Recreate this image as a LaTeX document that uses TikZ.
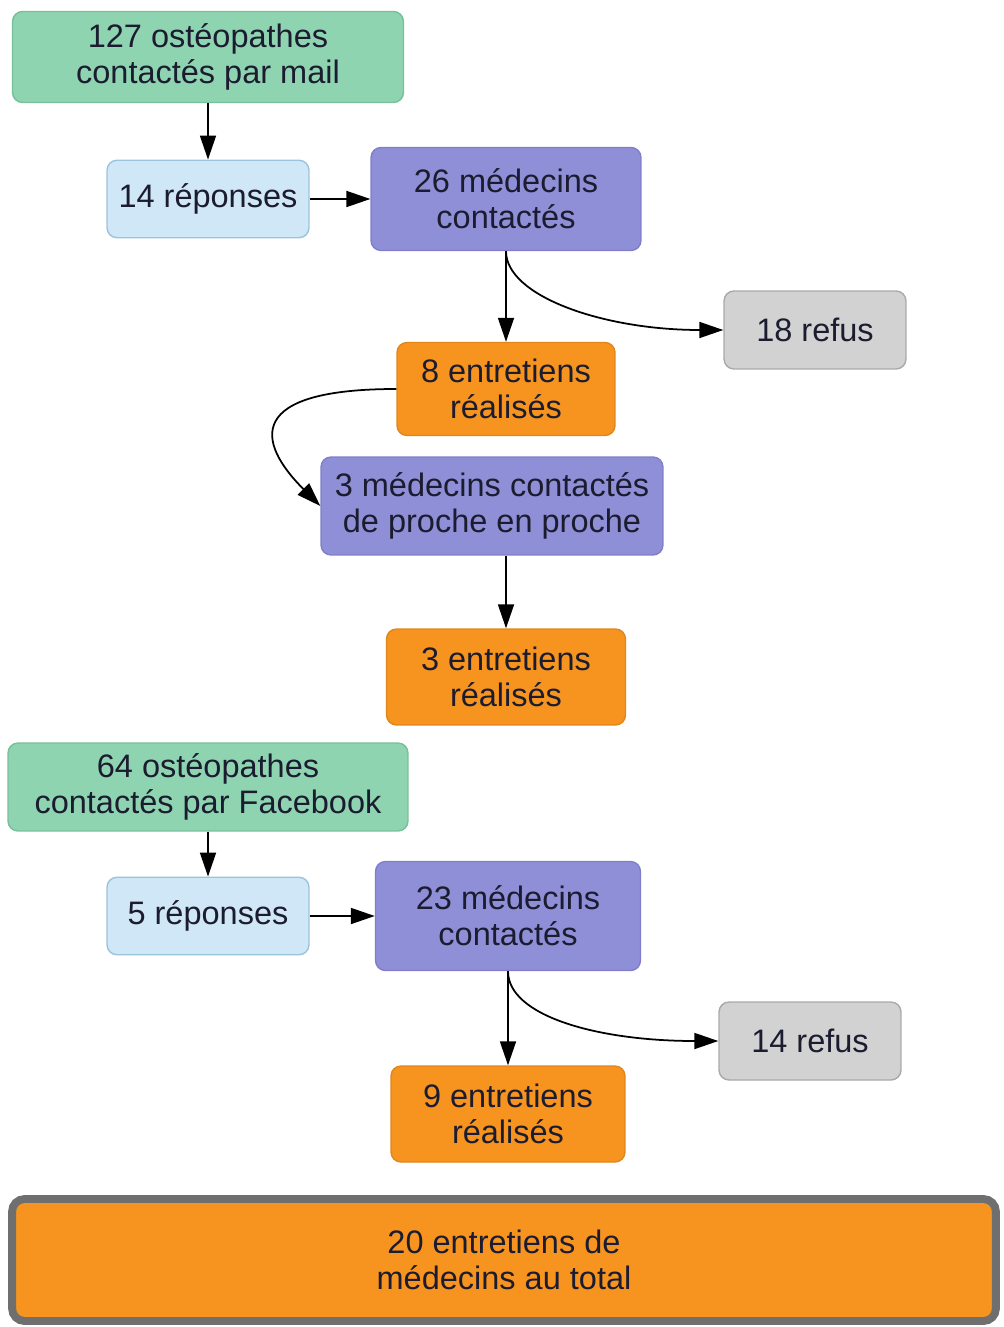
\documentclass[tikz,border=0pt]{standalone}
\usepackage{fontspec}
\setmainfont{Liberation Sans}
\usetikzlibrary{arrows.meta}
\definecolor{textcol}{HTML}{1C1C30}
\definecolor{greenfill}{HTML}{8FD4B1}
\definecolor{greenline}{HTML}{78BF9B}
\definecolor{bluefill}{HTML}{CFE7F6}
\definecolor{blueline}{HTML}{9CC3DE}
\definecolor{purplefill}{HTML}{8F8FD7}
\definecolor{purpleline}{HTML}{7E7ECB}
\definecolor{orangefill}{HTML}{F7941F}
\definecolor{orangeline}{HTML}{E0861A}
\definecolor{greyfill}{HTML}{D2D2D2}
\definecolor{greyline}{HTML}{A9A9A9}
\definecolor{totalline}{HTML}{6F6F6F}

\begin{document}
\begin{tikzpicture}[x=0.02cm,y=0.02cm,
    box/.style={rounded corners=0.2cm,draw,line width=0.8pt,align=center,inner sep=0pt,
      text=textcol,font=\fontsize{18.5}{20.5}\selectfont},
    greenbox/.style={box,fill=greenfill,draw=greenline},
    bluebox/.style={box,fill=bluefill,draw=blueline,minimum width=4.04cm,minimum height=1.55cm},
    purplebox/.style={box,fill=purplefill,draw=purpleline},
    orangebox/.style={box,fill=orangefill,draw=orangeline},
    greybox/.style={box,fill=greyfill,draw=greyline,minimum width=3.64cm,minimum height=1.56cm},
    arr/.style={-{Triangle[length=0.48cm,width=0.32cm]},line width=1pt}]
                    \useasboundingbox (0,0) rectangle (1003,-1327);
                    % first series: mail
                    \node [greenbox,minimum width=7.82cm,minimum height=1.82cm] (mail) at (208,-57) {127 ostéopathes\\contactés par mail};
                    \node [bluebox] (repmail) at (208,-199) {14 réponses};
                    \node [purplebox,minimum width=5.4cm,minimum height=2.06cm] (medmail) at (506,-199) {26 médecins\\contactés};
                    \node [greybox] (refmail) at (815,-330) {18 refus};
                    \node [orangebox,minimum width=4.36cm,minimum height=1.86cm] (entmail) at (506,-389) {8 entretiens\\réalisés};
                    \node [purplebox,minimum width=6.84cm,minimum height=1.96cm] (medproche) at (492,-506) {3 médecins contactés\\de proche en proche};
                    \node [orangebox,minimum width=4.78cm,minimum height=1.92cm] (entproche) at (506,-677) {3 entretiens\\réalisés};
                    \draw [arr] (mail) -- (repmail);
                    \draw [arr] (repmail) -- (medmail);
                    \draw [arr] (medmail) -- (entmail);
                    \draw [arr] (medmail.south) .. controls +(0,-45) and +(-120,0) .. (refmail.west);
                    \draw [arr] (entmail.west) .. controls +(-150,0) and +(-65,65) .. (medproche.west);
                    \draw [arr] (entproche.north |- medproche.south) -- (entproche);
                    % second series: Facebook
                    \node [greenbox,minimum width=8cm,minimum height=1.76cm] (fb) at (208,-787) {64 ostéopathes\\contactés par Facebook};
                    \node [bluebox] (repfb) at (208,-916) {5 réponses};
                    \node [purplebox,minimum width=5.3cm,minimum height=2.18cm] (medfb) at (508,-916) {23 médecins\\contactés};
                    \node [greybox] (reffb) at (810,-1041) {14 refus};
                    \node [orangebox,minimum width=4.68cm,minimum height=1.92cm] (entfb) at (508,-1114) {9 entretiens\\réalisés};
                    \draw [arr] (fb) -- (repfb);
                    \draw [arr] (repfb) -- (medfb);
                    \draw [arr] (medfb) -- (entfb);
                    \draw [arr] (medfb.south) .. controls +(0,-45) and +(-120,0) .. (reffb.west);
                    % total
                    \node [orangebox,draw=totalline,line width=4.5pt,rounded corners=0.25cm,minimum width=19.68cm,minimum height=2.44cm] (total) at (504,-1260) {20 entretiens de\\médecins au total};
                \end{tikzpicture}
\end{document}
